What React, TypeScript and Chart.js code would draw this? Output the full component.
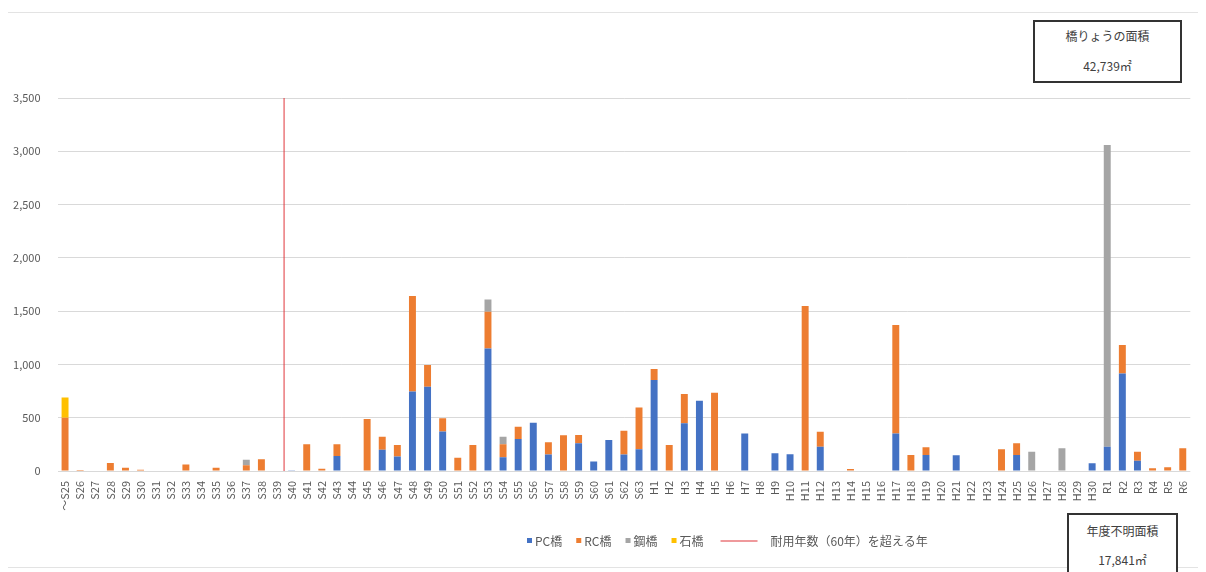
import React, { useEffect, useRef } from "react";
import { Chart, registerables } from "chart.js";

Chart.register(...registerables);

const categories = [
  "～S25", "S26", "S27", "S28", "S29", "S30", "S31", "S32", "S33", "S34",
  "S35", "S36", "S37", "S38", "S39", "S40", "S41", "S42", "S43", "S44",
  "S45", "S46", "S47", "S48", "S49", "S50", "S51", "S52", "S53", "S54",
  "S55", "S56", "S57", "S58", "S59", "S60", "S61", "S62", "S63",
  "H1", "H2", "H3", "H4", "H5", "H6", "H7", "H8", "H9", "H10",
  "H11", "H12", "H13", "H14", "H15", "H16", "H17", "H18", "H19", "H20",
  "H21", "H22", "H23", "H24", "H25", "H26", "H27", "H28", "H29", "H30",
  "R1", "R2", "R3", "R4", "R5", "R6",
];

// PC橋
const pcValues = [
  0, 0, 0, 0, 0, 0, 0, 0, 0, 0,
  0, 0, 0, 0, 0, 8, 0, 0, 140, 0,
  0, 200, 135, 745, 790, 370, 0, 0, 1150, 130,
  300, 453, 155, 0, 260, 88, 290, 155, 203,
  854, 0, 447, 660, 0, 0, 353, 0, 166, 156,
  0, 228, 0, 0, 0, 0, 353, 0, 150, 0,
  148, 0, 0, 0, 150, 0, 0, 0, 0, 72,
  228, 916, 97, 0, 0, 0,
];

// RC橋
const rcValues = [
  500, 10, 0, 75, 30, 12, 0, 0, 60, 0,
  30, 0, 55, 110, 0, 0, 250, 20, 110, 0,
  488, 122, 110, 897, 204, 124, 125, 244, 345, 120,
  116, 0, 114, 335, 78, 0, 0, 223, 394,
  103, 244, 275, 0, 734, 0, 0, 0, 0, 0,
  1548, 141, 0, 19, 0, 0, 1016, 150, 72, 0,
  0, 0, 0, 203, 110, 0, 0, 0, 0, 0,
  0, 266, 84, 25, 35, 213,
];

// 鋼橋
const steelValues = [
  0, 0, 0, 0, 0, 0, 0, 0, 0, 0,
  0, 0, 50, 0, 0, 0, 0, 0, 0, 0,
  0, 0, 0, 0, 0, 0, 0, 0, 115, 72,
  0, 0, 0, 0, 0, 0, 0, 0, 0,
  0, 0, 0, 0, 0, 0, 0, 0, 0, 0,
  0, 0, 0, 0, 0, 0, 0, 0, 0, 0,
  0, 0, 0, 0, 0, 181, 0, 213, 0, 0,
  2830, 0, 0, 0, 0, 0,
];

// 石橋
const stoneValues = [
  190, 0, 0, 0, 0, 0, 0, 0, 0, 0,
  0, 0, 0, 0, 0, 0, 0, 0, 0, 0,
  0, 0, 0, 0, 0, 0, 0, 0, 0, 0,
  0, 0, 0, 0, 0, 0, 0, 0, 0,
  0, 0, 0, 0, 0, 0, 0, 0, 0, 0,
  0, 0, 0, 0, 0, 0, 0, 0, 0, 0,
  0, 0, 0, 0, 0, 0, 0, 0, 0, 0,
  0, 0, 0, 0, 0, 0,
];

const yTicks = [0, 500, 1000, 1500, 2000, 2500, 3000, 3500];
const lifeLimitYear = "S40";

const seriesNames = ["PC橋", "RC橋", "鋼橋", "石橋"];
const lineName = "耐用年数（60年）を超える年";
const totalAreaTitle = "橋りょうの面積";
const totalAreaValue = "42,739㎡";
const unknownAreaTitle = "年度不明面積";
const unknownAreaValue = "17,841㎡";

const COLORS = ["#4472C4", "#ED7D31", "#A5A5A5", "#FFC000"];
const LINE_COLOR = "#E0353B";
const FONT = "'Noto Sans CJK JP', 'Noto Sans', sans-serif";

const legendPlugin = {
  id: "customLegend",
  afterDraw(chart: any) {
    const ctx = chart.ctx;
    ctx.save();
    ctx.font = `12px ${FONT}`;
    ctx.textBaseline = "middle";
    ctx.fillStyle = "#595959";
    const y = 533;
    let x = 519;
    const ds = chart.data.datasets;
    for (let i = 0; i < ds.length; i++) {
      const d = ds[i];
      if (d.type === "line") {
        ctx.strokeStyle = d.borderColor;
        ctx.lineWidth = 1.2;
        ctx.beginPath();
        ctx.moveTo(x + 3, y);
        ctx.lineTo(x + 40, y);
        ctx.stroke();
        x += 53;
        ctx.fillStyle = "#595959";
        ctx.fillText(d.label, x, y);
        x += ctx.measureText(d.label).width + 14;
      } else {
        ctx.fillStyle = d.backgroundColor;
        ctx.fillRect(x, y - 3, 5, 5);
        x += 8;
        ctx.fillStyle = "#595959";
        ctx.fillText(d.label, x, y);
        x += ctx.measureText(d.label).width + 14;
      }
    }
    ctx.restore();
  },
};

export default function App() {
  const canvasRef = useRef<HTMLCanvasElement | null>(null);

  useEffect(() => {
    if (!canvasRef.current) return;
    Chart.defaults.font.family = FONT;
    const yMax = yTicks[yTicks.length - 1];
    // boundary between the year before and the limit year
    const limitPos = categories.indexOf(lifeLimitYear) - 0.5;
    const seriesData = [pcValues, rcValues, steelValues, stoneValues];

    const barSets: any[] = seriesData.map((vals, i) => ({
      type: "bar",
      label: seriesNames[i],
      data: vals,
      backgroundColor: COLORS[i],
      borderWidth: 0,
      stack: "bridges",
      barPercentage: 0.46,
      categoryPercentage: 1,
      order: 2,
    }));

    const chart = new Chart(canvasRef.current, {
      type: "bar",
      data: {
        labels: categories,
        datasets: [
          ...barSets,
          {
            type: "line",
            label: lineName,
            parsing: false,
            normalized: true,
            data: [
              { x: limitPos, y: 0 },
              { x: limitPos, y: yMax },
            ],
            borderColor: LINE_COLOR,
            borderWidth: 1,
            pointRadius: 0,
            stack: "limit",
            order: 1,
          } as any,
        ],
      },
      options: {
        animation: false,
        responsive: true,
        maintainAspectRatio: false,
        layout: { padding: { top: 90, left: 0, right: 5, bottom: 0 } },
        plugins: {
          legend: { display: false },
          tooltip: { enabled: false },
        },
        scales: {
          x: {
            type: "category",
            stacked: true,
            offset: true,
            grid: { display: false },
            border: { display: false },
            ticks: {
              autoSkip: false,
              maxRotation: 90,
              minRotation: 90,
              color: "#595959",
              font: { size: 11 },
              padding: 2,
            },
            afterFit: (scale: any) => {
              scale.height = 101;
            },
          },
          y: {
            stacked: true,
            min: 0,
            max: yMax,
            grid: { color: "#D9D9D9", drawTicks: false },
            border: { display: false },
            afterBuildTicks: (scale: any) => {
              scale.ticks = yTicks.map((v) => ({ value: v }));
            },
            ticks: {
              color: "#595959",
              font: { size: 11 },
              padding: 17,
              callback: (v: any) => Number(v).toLocaleString("en-US"),
            },
            afterFit: (scale: any) => {
              scale.width = 49.5;
            },
          },
        },
      },
      plugins: [legendPlugin],
    });
    return () => chart.destroy();
  }, []);

  const boxText: React.CSSProperties = {
    position: "absolute",
    left: 0,
    right: 0,
    textAlign: "center",
    fontFamily: FONT,
    fontSize: 12,
    color: "#404040",
    lineHeight: "14px",
  };

  return (
    <div style={{ position: "relative", width: 1190, height: 564, overflow: "hidden" }}>
      <div
        style={{
          position: "absolute",
          left: -1,
          top: 4,
          width: 1192,
          height: 556,
          border: "1px solid #E3E3E3",
          boxSizing: "border-box",
        }}
      />
      <canvas ref={canvasRef} style={{ position: "absolute", left: 0, top: 0, width: 1190, height: 564 }} />
      <div
        style={{
          position: "absolute",
          left: 1025,
          top: 12,
          width: 149,
          height: 63,
          border: "2px solid #333",
          background: "#fff",
          boxSizing: "border-box",
        }}
      >
        <div style={{ ...boxText, top: 7 }}>{totalAreaTitle}</div>
        <div style={{ ...boxText, top: 37 }}>{totalAreaValue}</div>
      </div>
      <div
        style={{
          position: "absolute",
          left: 1059,
          top: 505,
          width: 111,
          height: 72,
          border: "2px solid #333",
          background: "#fff",
          boxSizing: "border-box",
        }}
      >
        <div style={{ ...boxText, top: 9 }}>{unknownAreaTitle}</div>
        <div style={{ ...boxText, top: 38 }}>{unknownAreaValue}</div>
      </div>
    </div>
  );
}
